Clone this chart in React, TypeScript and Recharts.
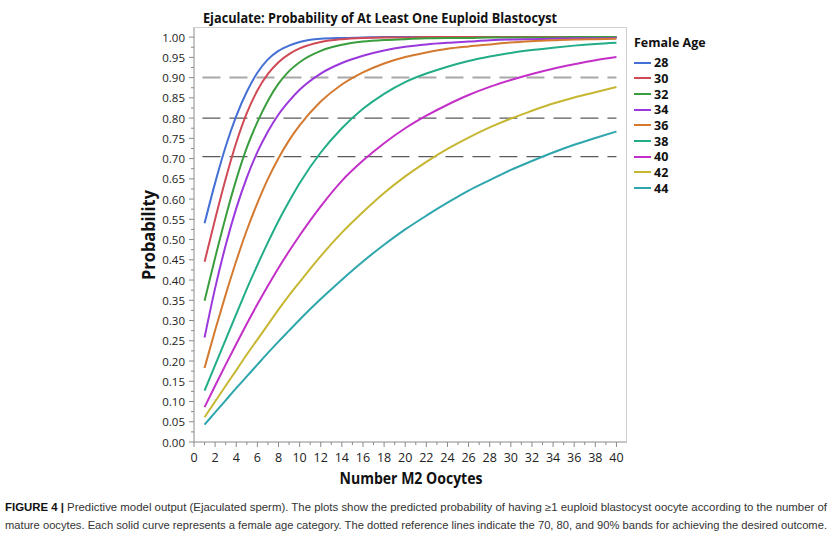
import React from 'react';
import { LineChart, Line, XAxis, YAxis, ReferenceLine } from 'recharts';

// number of M2 oocytes (x)
const oocytes = [1, 2, 3, 4, 5, 6, 7, 8, 9, 10, 12, 14, 16, 18, 20, 22, 24, 26, 28, 30, 32, 34, 36, 38, 40];

// predicted probability per female age
const age28 = [0.54, 0.64, 0.73, 0.805, 0.865, 0.912, 0.945, 0.966, 0.979, 0.988, 0.996, 0.998, 0.999, 1, 1, 1, 1, 1, 1, 1, 1, 1, 1, 1, 1];
const age30 = [0.445, 0.55, 0.65, 0.739, 0.812, 0.868, 0.909, 0.938, 0.958, 0.972, 0.988, 0.995, 0.998, 0.999, 0.999, 1, 1, 1, 1, 1, 1, 1, 1, 1, 1];
const age32 = [0.349, 0.455, 0.556, 0.648, 0.727, 0.79, 0.843, 0.885, 0.916, 0.938, 0.966, 0.981, 0.989, 0.993, 0.995, 0.997, 0.998, 0.998, 0.999, 0.999, 0.999, 0.999, 1, 1, 1];
const age34 = [0.258, 0.38, 0.486, 0.577, 0.653, 0.716, 0.767, 0.809, 0.842, 0.87, 0.91, 0.936, 0.954, 0.967, 0.976, 0.982, 0.986, 0.989, 0.992, 0.994, 0.995, 0.996, 0.997, 0.997, 0.998];
const age36 = [0.183, 0.276, 0.364, 0.447, 0.523, 0.59, 0.65, 0.701, 0.745, 0.782, 0.841, 0.883, 0.913, 0.935, 0.951, 0.962, 0.971, 0.977, 0.982, 0.987, 0.99, 0.992, 0.994, 0.995, 0.996];
const age38 = [0.127, 0.19, 0.253, 0.316, 0.378, 0.437, 0.493, 0.546, 0.594, 0.639, 0.715, 0.775, 0.823, 0.86, 0.889, 0.91, 0.927, 0.941, 0.952, 0.961, 0.968, 0.974, 0.979, 0.983, 0.986];
const age40 = [0.086, 0.139, 0.191, 0.242, 0.292, 0.34, 0.386, 0.43, 0.471, 0.51, 0.582, 0.645, 0.695, 0.738, 0.775, 0.806, 0.833, 0.857, 0.877, 0.894, 0.909, 0.922, 0.933, 0.943, 0.951];
const age42 = [0.061, 0.1, 0.139, 0.177, 0.216, 0.253, 0.29, 0.327, 0.362, 0.395, 0.459, 0.517, 0.568, 0.615, 0.656, 0.692, 0.724, 0.752, 0.777, 0.799, 0.818, 0.836, 0.851, 0.864, 0.877];
const age44 = [0.043, 0.073, 0.103, 0.133, 0.162, 0.191, 0.22, 0.248, 0.275, 0.302, 0.353, 0.401, 0.446, 0.487, 0.525, 0.559, 0.591, 0.621, 0.647, 0.672, 0.694, 0.715, 0.734, 0.751, 0.767];

const ages = ['28', '30', '32', '34', '36', '38', '40', '42', '44'];
const seriesValues = [age28, age30, age32, age34, age36, age38, age40, age42, age44];
const colors = ['#4470d6', '#cf4a55', '#3a9e3f', '#9b38dc', '#d47a30', '#22ad88', '#c42fc8', '#c6b733', '#2ea6ad'];

// reference bands
const refLevels = [0.9, 0.8, 0.705];

const xMajorTicks = [0, 2, 4, 6, 8, 10, 12, 14, 16, 18, 20, 22, 24, 26, 28, 30, 32, 34, 36, 38, 40];
const yMajorTicks = [0, 0.05, 0.1, 0.15, 0.2, 0.25, 0.3, 0.35, 0.4, 0.45, 0.5, 0.55, 0.6, 0.65, 0.7, 0.75, 0.8, 0.85, 0.9, 0.95, 1];

const xTicks = xMajorTicks.flatMap((t, i) => (i < xMajorTicks.length - 1 ? [t, t + 1] : [t]));
const yTicks = yMajorTicks.flatMap((t, i) => (i < yMajorTicks.length - 1 ? [t, t + 0.025] : [t]));

const captionLine1 = 'Predictive model output (Ejaculated sperm). The plots show the predicted probability of having ≥1 euploid blastocyst oocyte according to the number of';
const captionLine2 = 'mature oocytes. Each solid curve represents a female age category. The dotted reference lines indicate the 70, 80, and 90% bands for achieving the desired outcome.';

const data = oocytes.map((n, i) => {
  const row: any = { n };
  ages.forEach((a, k) => {
    row['a' + a] = seriesValues[k][i];
  });
  return row;
});

const font = "'Open Sans', 'Noto Sans', sans-serif";
const capFont = "'Liberation Sans', Arial, sans-serif";
const axisColor = '#8a8a8a';

const XTick = ({ x, y, payload }: any) => {
  const v = payload.value;
  const major = v % 2 === 0;
  return (
    <g>
      <line x1={x} x2={x} y1={y} y2={y + (major ? 5 : 3)} stroke={axisColor} />
      {major && (
        <text x={x} y={y + 15} textAnchor="middle" dominantBaseline="central" fontSize={12.5} fill="#222" fontFamily={font}>
          {v}
        </text>
      )}
    </g>
  );
};

const YTick = ({ x, y, payload }: any) => {
  const v = payload.value;
  const major = Math.round(v * 40) % 2 === 0;
  return (
    <g>
      <line x1={x} x2={x - (major ? 5 : 3)} y1={y} y2={y} stroke={axisColor} />
      {major && (
        <text x={x - 9} y={y} textAnchor="end" dominantBaseline="central" fontSize={11.5} fill="#222" fontFamily={font}>
          {v.toFixed(2)}
        </text>
      )}
    </g>
  );
};

export default function App() {
  return (
    <div style={{ position: 'absolute', left: 0, top: 0, width: 834, height: 541, background: '#fff' }}>
      <LineChart width={834} height={541} data={data} margin={{ top: 27, right: 207, bottom: 69, left: 0 }}>
        <XAxis
          dataKey="n"
          type="number"
          domain={[0, 41]}
          ticks={xTicks}
          interval={0}
          tick={<XTick />}
          tickLine={false}
          tickSize={0}
          tickMargin={0}
          height={30}
          axisLine={{ stroke: axisColor }}
        />
        <YAxis
          type="number"
          domain={[0, 1.025]}
          ticks={yTicks}
          interval={0}
          tick={<YTick />}
          tickLine={false}
          tickSize={0}
          tickMargin={0}
          width={194}
          axisLine={{ stroke: axisColor }}
        />
        {refLevels.map((lv, i) => (
          <ReferenceLine
            key={`ref-${lv}`}
            segment={[{ x: 0.8, y: lv }, { x: 40, y: lv }]}
            stroke={i === 0 ? '#a8a8a8' : '#5a5a5a'}
            strokeWidth={i === 0 ? 2 : 1.2}
            strokeDasharray="18 9"
          />
        ))}
        {ages.map((a, k) => (
          <Line
            key={`line-${a}`}
            dataKey={'a' + a}
            type="monotone"
            stroke={colors[k]}
            strokeWidth={2}
            dot={false}
            isAnimationActive={false}
          />
        ))}
      </LineChart>

      {/* frame top/right */}
      <div style={{ position: 'absolute', left: 194, top: 27, width: 433, height: 415, borderTop: '1px solid #cfcfcf', borderRight: '1px solid #cfcfcf', boxSizing: 'border-box', pointerEvents: 'none' }} />

      {/* legend */}
      <div style={{ position: 'absolute', left: 634, top: 34, fontFamily: font, fontWeight: 700, fontSize: 12.5, color: '#111' }}>
        <div style={{ height: 18, lineHeight: '18px' }}>Female Age</div>
      </div>
      {ages.map((a, k) => (
        <div key={`leg-${a}`} style={{ position: 'absolute', left: 634, top: 62.7 + 15.68 * k - 8, height: 16, display: 'flex', alignItems: 'center', fontFamily: font, fontWeight: 700, fontSize: 12.5, color: '#111' }}>
          <span style={{ display: 'inline-block', width: 17, height: 2, background: colors[k], marginRight: 3 }} />
          <span>{a}</span>
        </div>
      ))}

      <svg width={834} height={541} style={{ position: 'absolute', left: 0, top: 0, pointerEvents: 'none' }}>
        <text x={380} y={22.5} textAnchor="middle" fontFamily={font} fontWeight={700} fontSize={14} fill="#111" textLength={354} lengthAdjust="spacingAndGlyphs">
          Ejaculate: Probability of At Least One Euploid Blastocyst
        </text>
        <text x={411} y={484} textAnchor="middle" fontFamily={font} fontWeight={700} fontSize={16} fill="#111" textLength={143} lengthAdjust="spacingAndGlyphs">
          Number M2 Oocytes
        </text>
        <text x={148} y={235} textAnchor="middle" dominantBaseline="central" transform="rotate(-90 148 235)" fontFamily={font} fontWeight={700} fontSize={17} fill="#111" textLength={90} lengthAdjust="spacingAndGlyphs">
          Probability
        </text>
        <text x={5} y={511} fontFamily={capFont} fontSize={10.5} fill="#333" textLength={822} lengthAdjust="spacingAndGlyphs">
          <tspan fontWeight={700} fill="#111">FIGURE 4 | </tspan>
          {captionLine1}
        </text>
        <text x={5} y={529} fontFamily={capFont} fontSize={10.5} fill="#333" textLength={822} lengthAdjust="spacingAndGlyphs">
          {captionLine2}
        </text>
      </svg>
    </div>
  );
}
